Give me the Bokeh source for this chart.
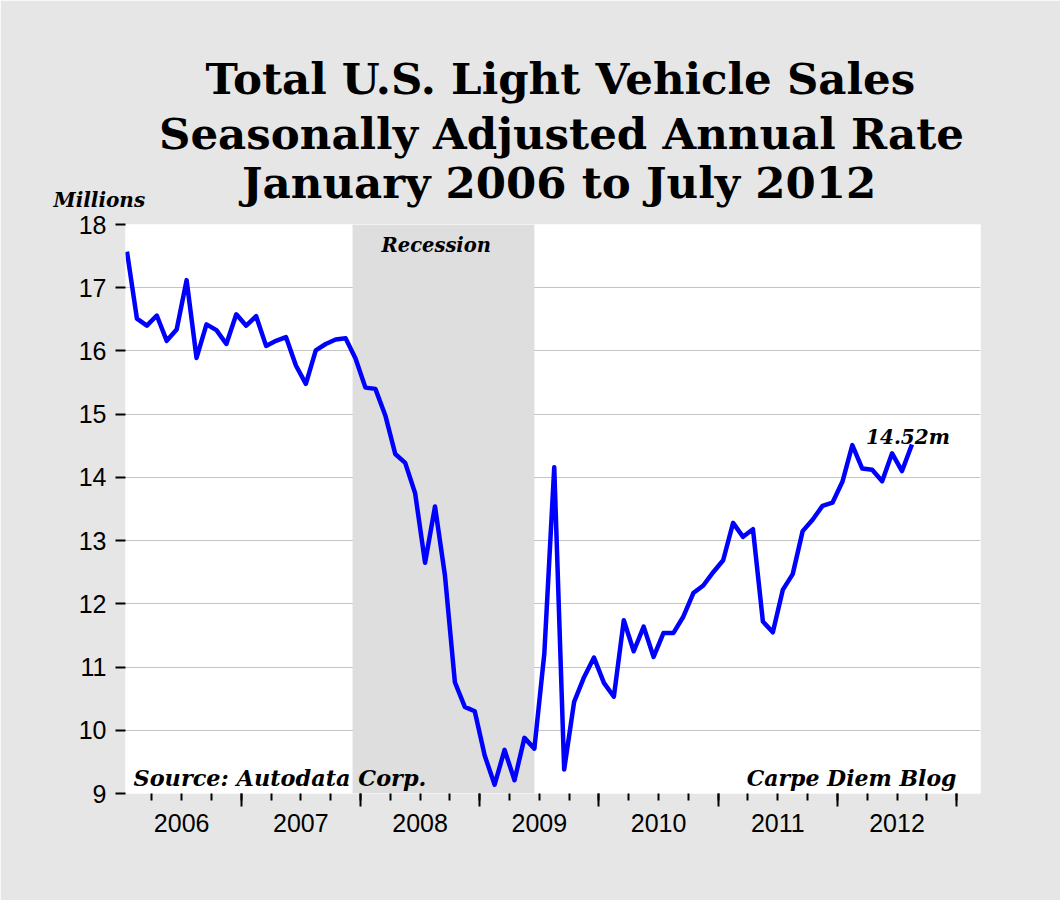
from bokeh.plotting import figure
from bokeh.models import (Range1d, FixedTicker, LinearAxis, BoxAnnotation, Label, Title, ColumnDataSource)
from bokeh.embed import file_html
from bokeh.resources import INLINE

# ---- data (monthly SAAR, millions), starting January 2006 ----
start_year = 2006
sales = [17.57, 16.51, 16.40, 16.56, 16.16, 16.34, 17.12, 15.89, 16.42, 16.33, 16.11, 16.58,
         16.40, 16.55, 16.08, 16.16, 16.22, 15.77, 15.48, 16.01, 16.11, 16.18, 16.20, 15.88,
         15.42, 15.40, 14.98, 14.37, 14.23, 13.75, 12.65, 13.54, 12.45, 10.76, 10.37, 10.30,
         9.60, 9.14, 9.69, 9.21, 9.88, 9.71, 11.21, 14.16, 9.38, 10.45, 10.84, 11.15,
         10.75, 10.53, 11.74, 11.25, 11.64, 11.16, 11.54, 11.54, 11.80, 12.17, 12.29, 12.50,
         12.69, 13.28, 13.06, 13.18, 11.72, 11.55, 12.22, 12.47, 13.15, 13.33, 13.55, 13.60,
         13.93, 14.51, 14.14, 14.12, 13.94, 14.38, 14.10, 14.52]
year_labels = ["2006", "2007", "2008", "2009", "2010", "2011", "2012"]
y_ticks = [9, 10, 11, 12, 13, 14, 15, 16, 17, 18]
recession_start = (2007, 12)
recession_end = (2009, 6)

def month_index(ym):
    return (ym[0] - start_year) * 12 + (ym[1] - 1)

months = list(range(len(sales)))
src = ColumnDataSource(dict(month=months, sales=sales))

SERIF = "DejaVu Serif"
SANS = "Liberation Sans"

p = figure(width=1060, height=900, output_backend="svg", toolbar_location=None,
           x_range=Range1d(-0.15, 85.9), y_range=Range1d(9, 18),
           min_border_left=125, min_border_right=80, min_border_top=224, min_border_bottom=107)
p.border_fill_color = "#E6E6E6"
p.background_fill_color = "white"
p.outline_line_color = None
p.xgrid.visible = False
p.ygrid.grid_line_color = "#C4C4C4"
p.ygrid.grid_line_width = 1

# recession shading
p.add_layout(BoxAnnotation(left=month_index(recession_start) - 0.3, right=month_index(recession_end),
                           fill_color="#DEDEDE", fill_alpha=1.0, line_color=None, level="underlay"))

p.line("month", "sales", source=src, line_color="#0000FF", line_width=4.5, line_join="round")

# y axis
p.yaxis.ticker = FixedTicker(ticks=y_ticks)
p.yaxis.axis_line_color = None
p.yaxis.major_tick_in = 0
p.yaxis.major_tick_out = 10
p.yaxis.major_tick_line_width = 2
p.yaxis.minor_tick_line_color = None
p.yaxis.major_label_text_font = SANS
p.yaxis.major_label_text_font_size = "25px"
p.yaxis.major_label_text_color = "black"
p.yaxis.major_label_standoff = 9

# x axis: tick marks (year boundaries long, quarters short)
n_years = len(year_labels)
quarter_ticks = [2.5 + 3 * k for k in range(4 * n_years)]
year_bounds = [11.5 + 12 * k for k in range(n_years)]
year_centers = [5.5 + 12 * k for k in range(n_years)]

xa = p.xaxis[0]
xa.ticker = FixedTicker(ticks=year_bounds, minor_ticks=quarter_ticks)
xa.axis_line_color = None
xa.major_tick_in = 0
xa.major_tick_out = 13
xa.minor_tick_in = 0
xa.minor_tick_out = 7
xa.major_tick_line_width = 2
xa.minor_tick_line_width = 2
xa.minor_tick_line_color = "black"
xa.major_label_text_font_size = "1px"
xa.major_label_text_color = None
xa.major_label_standoff = 0

xl = LinearAxis(ticker=FixedTicker(ticks=year_centers),
                major_label_overrides={c: y for c, y in zip(year_centers, year_labels)})
xl.axis_line_color = None
xl.major_tick_line_color = None
xl.minor_tick_line_color = None
xl.major_label_text_font = SANS
xl.major_label_text_font_size = "25px"
xl.major_label_text_color = "black"
xl.major_label_standoff = 1
p.add_layout(xl, "below")

# unit note, nearest the frame, left of the plot
p.add_layout(Title(text="Millions", align="left", offset=-72, text_font=SERIF,
                   text_font_style="bold italic", text_font_size="20px", text_color="black",
                   standoff=25), "above")

# titles (added bottom line first); standoff/offset place each line
for txt, so, off in [("January 2006 to July 2012", -68, 116.5),
                     ("Seasonally Adjusted Annual Rate", 29, 33.5),
                     ("Total U.S. Light Vehicle Sales", -24, 80)]:
    p.add_layout(Title(text=txt, align="left", offset=off, text_font=SERIF, text_font_style="bold",
                       text_font_size="43.5px", text_color="black", standoff=so), "above")

lab_kw = dict(text_font=SERIF, text_font_style="bold italic", text_color="black")
p.add_layout(Label(x=month_index(recession_start), y=18, x_offset=26, y_offset=-21, text="Recession",
                   text_font_size="19.5px", text_align="left", text_baseline="alphabetic", **lab_kw))
p.add_layout(Label(x=p.x_range.start, y=9, x_offset=8, y_offset=16, text="Source: Autodata Corp.",
                   text_font_size="22.4px", text_align="left", text_baseline="alphabetic", **lab_kw))
p.add_layout(Label(x=p.x_range.end, y=9, x_offset=-24, y_offset=16, text="Carpe Diem Blog",
                   text_font_size="22px", text_align="right", text_baseline="alphabetic", **lab_kw))
p.add_layout(Label(x=months[-1], y=sales[-1], x_offset=-4, y_offset=8, text=f"{sales[-1]:.2f}m",
                   text_font_size="20px", text_align="center", text_baseline="alphabetic", **lab_kw))

open("out.html", "w").write(file_html(p, INLINE))
